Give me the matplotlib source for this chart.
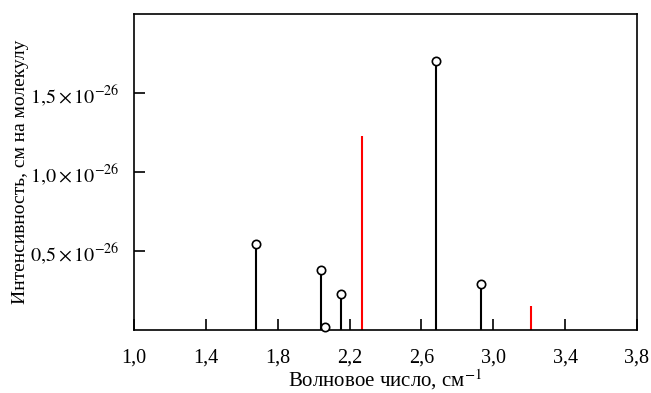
import numpy as np
import matplotlib.pyplot as plt
from matplotlib.ticker import FixedLocator, FixedFormatter

plt.rcParams['font.family'] = 'Liberation Serif'
plt.rcParams['mathtext.fontset'] = 'stix'

# Measured lines (black, with markers)
wn_black = [1.678, 2.039, 2.061, 2.150, 2.683, 2.933]
int_black = [0.544, 0.378, 0.02, 0.228, 1.70, 0.29]
# Red lines (no markers)
wn_red = [2.267, 3.211]
int_red = [1.228, 0.15]

scale = 1e-26
xticks = [1.0, 1.4, 1.8, 2.2, 2.6, 3.0, 3.4, 3.8]
xtick_labels = ['1,0', '1,4', '1,8', '2,2', '2,6', '3,0', '3,4', '3,8']
yticks = [0.5, 1.0, 1.5]
ytick_labels = [r'$0{,}5\times10^{-26}$', r'$1{,}0\times10^{-26}$', r'$1{,}5\times10^{-26}$']

fig = plt.figure(figsize=(6.51, 3.93), dpi=100)
ax = fig.add_axes([0.2058, 0.1603, 0.7726, 0.8041])

yb = np.array(int_black) * scale
yr = np.array(int_red) * scale
ax.vlines(wn_black, 0, yb, color='black', lw=1.5, zorder=2)
ax.vlines(wn_red, 0, yr, color='red', lw=1.5, zorder=2)
ax.plot(wn_black, yb, 'o', mfc='white', mec='black', mew=1.2, ms=6, zorder=3, clip_on=False)

ax.set_xlim(1.0, 3.8)
ax.set_ylim(0, 2.0e-26)
ax.xaxis.set_major_locator(FixedLocator(xticks))
ax.xaxis.set_major_formatter(FixedFormatter(xtick_labels))
ax.yaxis.set_major_locator(FixedLocator([v * scale for v in yticks]))
ax.yaxis.set_major_formatter(FixedFormatter(ytick_labels))
ax.tick_params(direction='in', length=8, width=1.2, labelsize=14.5)
ax.tick_params(axis='x', pad=13)
ax.tick_params(axis='y', pad=10)
for s in ax.spines.values():
    s.set_linewidth(1.2)

ax.set_xlabel('Волновое число, см$^{-1}$', fontsize=15, labelpad=0)
ax.set_ylabel('Интенсивность, см на молекулу', fontsize=14, labelpad=1)

fig.savefig('out.png', dpi=100)
